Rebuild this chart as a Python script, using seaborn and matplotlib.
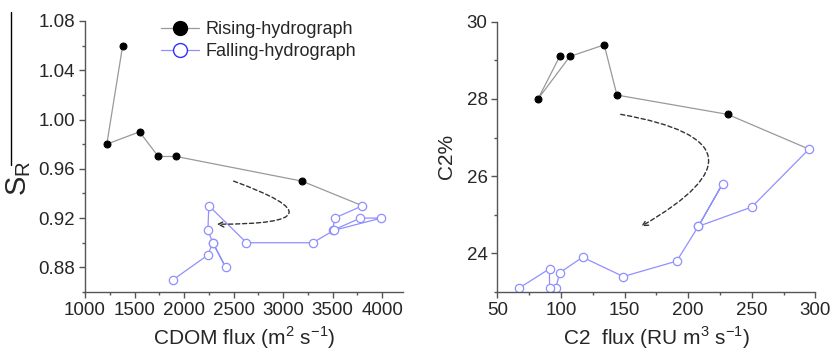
import seaborn as sns
import matplotlib.pyplot as plt
from matplotlib.lines import Line2D
from matplotlib.ticker import MultipleLocator, FormatStrFormatter

sns.set_style('ticks')
plt.rcParams['font.family'] = ['Liberation Sans', 'DejaVu Sans']
plt.rcParams['mathtext.fontset'] = 'custom'
plt.rcParams['mathtext.rm'] = 'Liberation Sans'

# left panel: S_R vs CDOM flux
cdom_rise = [1380, 1220, 1550, 1740, 1920, 3190, 3800]
sr_rise = [1.06, 0.98, 0.99, 0.97, 0.97, 0.95, 0.93]
cdom_fall = [3800, 3520, 3500, 3780, 3990, 3510, 3300, 2630, 2250, 2240,
             2290, 2420, 2290, 2240, 1890]
sr_fall = [0.93, 0.92, 0.91, 0.92, 0.92, 0.91, 0.90, 0.90, 0.93, 0.91,
           0.90, 0.88, 0.90, 0.89, 0.87]

# right panel: C2% vs C2 flux
c2flux_rise = [99, 82, 107, 134, 144, 231, 295]
c2pct_rise = [29.1, 28.0, 29.1, 29.4, 28.1, 27.6, 26.7]
c2flux_fall = [295, 250, 208, 227, 208, 191, 149, 117, 99, 96, 91, 91, 67]
c2pct_fall = [26.7, 25.2, 24.7, 25.8, 24.7, 23.8, 23.4, 23.9, 23.5, 23.1,
              23.1, 23.6, 23.1]

# dashed arrows (start, end)
arrow_left = [(2500, 0.95), (2330, 0.915)]
arrow_right = [(147, 27.6), (163, 24.7)]

grey = '#999999'
blue = '#9090ff'
spine = '#555555'

fig = plt.figure(figsize=(8.31, 3.58), dpi=100)
ax1 = fig.add_axes([0.1023, 0.1844, 0.3827, 0.757])
ax2 = fig.add_axes([0.5985, 0.1844, 0.3827, 0.755])


def draw(ax, xr, yr, xf, yf):
    sns.lineplot(x=xr, y=yr, sort=False, estimator=None, ax=ax, color=grey,
                 lw=0.9, marker='o', ms=5, mfc='black', mec='black')
    sns.lineplot(x=xf, y=yf, sort=False, estimator=None, ax=ax, color=blue,
                 lw=0.9, marker='o', ms=6, mfc='white', mec=blue, mew=0.9)
    for s in ['top', 'right']:
        ax.spines[s].set_visible(False)
    for s in ['left', 'bottom']:
        ax.spines[s].set_color(spine)
        ax.spines[s].set_linewidth(1)
    ax.tick_params(which='major', direction='out', length=4, width=1,
                   color=spine, labelsize=13.5, pad=3)
    ax.tick_params(which='minor', direction='out', length=2.5, width=1,
                   color=spine)


draw(ax1, cdom_rise, sr_rise, cdom_fall, sr_fall)
draw(ax2, c2flux_rise, c2pct_rise, c2flux_fall, c2pct_fall)

ax1.set_xlim(1000, 4210)
ax1.set_ylim(0.86, 1.08)
ax1.xaxis.set_major_locator(MultipleLocator(500))
ax1.xaxis.set_minor_locator(MultipleLocator(250))
ax1.set_yticks([0.88, 0.92, 0.96, 1.00, 1.04, 1.08])
ax1.yaxis.set_minor_locator(MultipleLocator(0.02))
ax1.yaxis.set_major_formatter(FormatStrFormatter('%.2f'))
ax1.set_xlabel('CDOM flux (m$^2$ s$^{-1}$)', fontsize=15, labelpad=4)
ax1.set_ylabel('S$_\\mathregular{R}$', fontsize=21)
ax1.yaxis.set_label_coords(-0.165, 0.42)

ax2.set_xlim(50, 300)
ax2.set_ylim(23, 30)
ax2.xaxis.set_major_locator(MultipleLocator(50))
ax2.xaxis.set_minor_locator(MultipleLocator(25))
ax2.set_yticks([24, 26, 28, 30])
ax2.yaxis.set_minor_locator(MultipleLocator(1))
ax2.set_xlabel('C2  flux (RU m$^3$ s$^{-1}$)', fontsize=15, labelpad=4)
ax2.set_ylabel('C2%', fontsize=15, labelpad=8)

for ax, (p0, p1), angs in [(ax1, arrow_left, (-20, 0)),
                           (ax2, arrow_right, (-10, 30))]:
    ax.annotate('', xy=p1, xytext=p0,
                arrowprops=dict(arrowstyle='->', ls=(0, (3, 2)), lw=1,
                                color='#333333',
                                connectionstyle='angle3,angleA=%d,angleB=%d'
                                % angs,
                                shrinkA=0, shrinkB=0))

handles = [
    Line2D([], [], color=grey, lw=0.9, marker='o', ms=10, mfc='black',
           mec='black'),
    Line2D([], [], color=blue, lw=0.9, marker='o', ms=10, mfc='white',
           mec='#3030ff', mew=1),
]
ax1.legend(handles, ['Rising-hydrograph', 'Falling-hydrograph'],
           loc='upper left', bbox_to_anchor=(0.215, 1.025), frameon=False,
           fontsize=13, handlelength=2.1, handletextpad=0.4,
           labelspacing=0.25, borderaxespad=0)

# stray vertical rule at the top left of the original figure
fig.add_artist(Line2D([0.0135, 0.0135], [1 - 12 / 358, 1 - 165 / 358],
                      color='black', lw=1))

fig.savefig('out.png', dpi=100)
